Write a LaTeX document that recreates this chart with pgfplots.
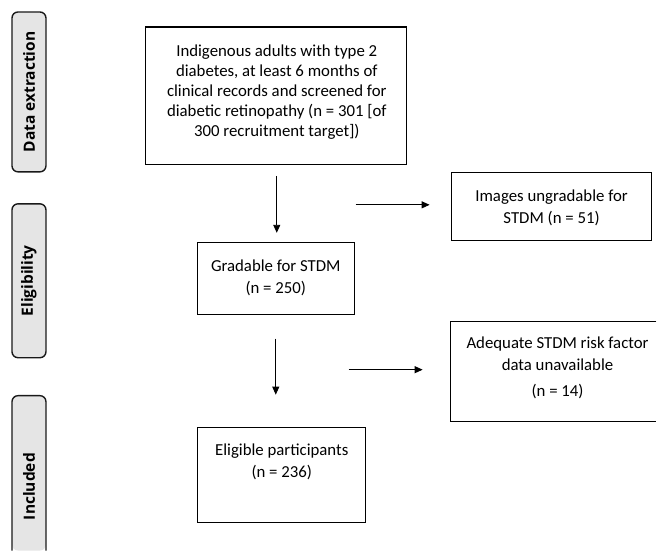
\documentclass[border=0pt]{standalone}
\usepackage{pgfplots}
\pgfplotsset{compat=1.18}
\usepackage{fontspec}
\setmainfont{Carlito}
\newfontfamily\labfont{Open Sans}
\usetikzlibrary{arrows.meta}
\begin{document}
\begin{tikzpicture}
\begin{axis}[scale only axis, width=657bp, height=551bp,
  xmin=0, xmax=657, ymin=0, ymax=551, y dir=reverse,
  hide axis, clip=false]
% full frame for the page size
\addplot[draw=none] coordinates {(0,0) (657,0) (657,551) (0,551)};
% stage boxes
\addplot[draw=black!90, line width=1.4bp, fill=black!10, rounded corners=6bp] coordinates {(12,12) (46,12) (46,172) (12,172)} -- cycle;
\addplot[draw=black!90, line width=1.4bp, fill=black!10, rounded corners=6bp] coordinates {(12,204) (46,204) (46,358) (12,358)} -- cycle;
\addplot[draw=none, fill=black!10, rounded corners=6bp] coordinates {(12,551) (12,396) (46,396) (46,551)} -- cycle;
\addplot[draw=black!90, line width=1.4bp, rounded corners=6bp] coordinates {(12,551) (12,396) (46,396) (46,551)};
\node[rotate=90, font=\labfont\bfseries\fontsize{15.5bp}{18bp}\selectfont] at (axis cs:29,92) {Data extraction};
\node[rotate=90, font=\labfont\bfseries\fontsize{15.5bp}{18bp}\selectfont] at (axis cs:29,281) {Eligibility};
\node[rotate=90, font=\labfont\bfseries\fontsize{15.5bp}{18bp}\selectfont] at (axis cs:29,487) {Included};
% boxes
\addplot[draw=black, line width=1.1bp] coordinates {(146,27) (407,27) (407,165) (146,165)} -- cycle;
\addplot[draw=black, line width=1.1bp] coordinates {(452,173) (652,173) (652,241) (452,241)} -- cycle;
\addplot[draw=black, line width=1.1bp] coordinates {(198,243) (355,243) (355,315) (198,315)} -- cycle;
\addplot[draw=black, line width=1.1bp] coordinates {(657,322) (451,322) (451,422) (657,422)};
\addplot[draw=black, line width=1.1bp] coordinates {(198,428) (366,428) (366,523) (198,523)} -- cycle;
% arrows
\addplot[black, line width=0.9bp, -{Triangle[length=8bp,width=7bp]}] coordinates {(277,176) (277,233)};
\addplot[black, line width=0.9bp, -{Triangle[length=8bp,width=7bp]}] coordinates {(356,205) (430,205)};
\addplot[black, line width=0.9bp, -{Triangle[length=8bp,width=7bp]}] coordinates {(276,339) (276,395)};
\addplot[black, line width=0.9bp, -{Triangle[length=8bp,width=7bp]}] coordinates {(349,370) (423,370)};
% texts
\node[align=center, font=\fontsize{16.8bp}{20bp}\selectfont] at (axis cs:277,92) {Indigenous adults with type 2\\diabetes, at least 6 months of\\clinical records and screened for\\diabetic retinopathy (n = 301 [of\\300 recruitment target])};
\node[align=center, font=\fontsize{16.8bp}{22bp}\selectfont] at (axis cs:552,208) {Images ungradable for\\STDM (n = 51)};
\node[align=center, font=\fontsize{16.8bp}{22bp}\selectfont] at (axis cs:276,278) {Gradable for STDM\\(n = 250)};
\node[align=center, font=\fontsize{16.8bp}{22bp}\selectfont] at (axis cs:558,354) {Adequate STDM risk factor\\data unavailable};
\node[align=center, font=\fontsize{16.8bp}{22bp}\selectfont] at (axis cs:558,392) {(n = 14)};
\node[align=center, font=\fontsize{16.8bp}{22bp}\selectfont] at (axis cs:282,462) {Eligible participants\\(n = 236)};
\end{axis}
\end{tikzpicture}
\end{document}
